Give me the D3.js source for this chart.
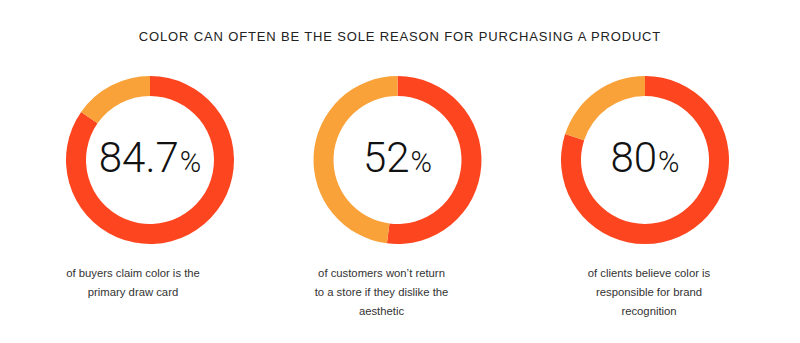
<!DOCTYPE html>
<html>
<head>
<meta charset="utf-8">
<script src="https://cdn.jsdelivr.net/npm/d3@7"></script>
<style>
  html, body { margin: 0; padding: 0; background: #fff; }
  svg { display: block; }
</style>
</head>
<body>
<svg id="chart" width="800" height="343"></svg>
<script>
// Chart data
const title = "COLOR CAN OFTEN BE THE SOLE REASON FOR PURCHASING A PRODUCT";
const values = [84.7, 52, 80];
const valueLabels = ["84.7", "52", "80"];
const captions = [
  ["of buyers claim color is the", "primary draw card"],
  ["of customers won\u2019t return", "to a store if they dislike the", "aesthetic"],
  ["of clients believe color is", "responsible for brand", "recognition"]
];

const width = 800, height = 343;
const svg = d3.select("#chart");

const mainColor = "#fd4620";
const restColor = "#f9a23a";

// Horizontal placement of the three rings
const x = d3.scalePoint()
  .domain(d3.range(values.length))
  .range([150, 645]);

const cy = 160;
const outerR = 84, innerR = 64;
// caption blocks sit slightly off the ring centres
const captionShift = [-17, -16, 4];

svg.append("text")
  .attr("x", 400)
  .attr("y", 41)
  .attr("text-anchor", "middle")
  .attr("font-family", "'Liberation Sans', Arial, sans-serif")
  .attr("font-size", 13)
  .attr("letter-spacing", 0.85)
  .attr("fill", "#222")
  .text(title);

const pie = d3.pie().sort(null).value(d => d);
const arc = d3.arc().innerRadius(innerR).outerRadius(outerR);

const groups = svg.selectAll("g.ring")
  .data(values)
  .join("g")
  .attr("class", "ring")
  .attr("transform", (d, i) => `translate(${x(i)},${cy})`);

groups.selectAll("path")
  .data(d => pie([d, 100 - d]))
  .join("path")
  .attr("d", arc)
  .attr("fill", (d, i) => i === 0 ? mainColor : restColor);

const num = groups.append("text")
  .attr("y", 12)
  .attr("text-anchor", "middle")
  .attr("font-family", "Roboto, 'Liberation Sans', sans-serif")
  .attr("font-weight", 300)
  .attr("fill", "#111");

num.append("tspan")
  .attr("font-size", 42)
  .text((d, i) => valueLabels[i]);
num.append("tspan")
  .attr("font-size", 29)
  .attr("dx", 1)
  .text("%");

groups.each(function(d, i) {
  const t = d3.select(this).append("text")
    .attr("text-anchor", "middle")
    .attr("font-family", "'Liberation Sans', Arial, sans-serif")
    .attr("font-size", 11.3)
    .attr("fill", "#333");
  t.selectAll("tspan")
    .data(captions[i])
    .join("tspan")
    .attr("x", captionShift[i])
    .attr("y", (line, j) => 117 + j * 19)
    .text(line => line);
});
</script>
</body>
</html>
